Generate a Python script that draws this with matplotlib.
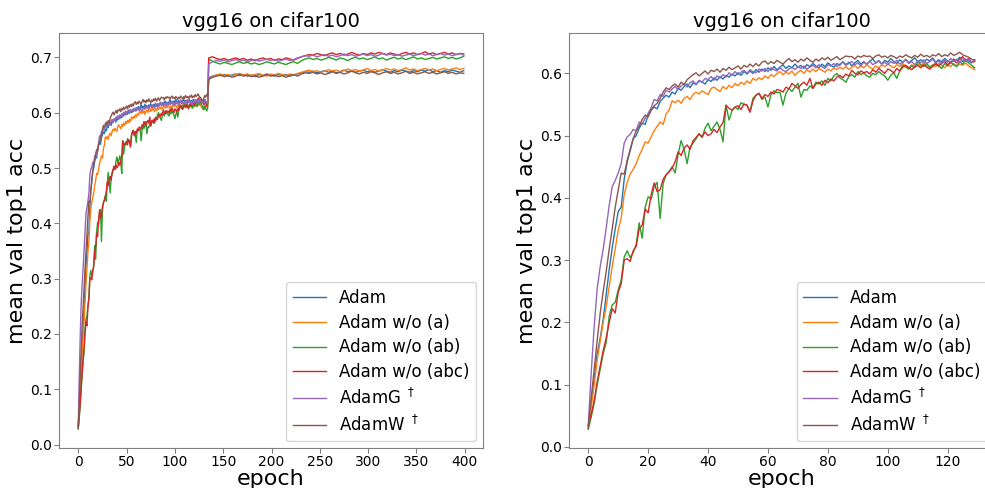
import numpy as np
import matplotlib
matplotlib.use("Agg")
import matplotlib.pyplot as plt

# ---------------- data (accuracy in thousandths) ----------------
labels = ["Adam", "Adam w/o (a)", "Adam w/o (ab)", "Adam w/o (abc)",
          r"AdamG $^\dagger$", r"AdamW $^\dagger$"]
colors = ["tab:blue", "tab:orange", "tab:green", "tab:red", "tab:purple", "tab:brown"]

# per-epoch values, epochs 0..134
adam_head = [
    32, 70, 110, 150, 175, 205, 245, 285, 320, 350,
    378, 385, 430, 458, 476, 495, 500, 512, 520, 518,
    533, 541, 546, 543, 555, 560, 565, 562, 570, 567,
    576, 573, 579, 583, 577, 585, 582, 588, 586, 583,
    590, 587, 593, 589, 595, 591, 597, 594, 599, 596,
    601, 597, 603, 599, 604, 600, 606, 602, 607, 603,
    609, 605, 611, 606, 610, 614, 608, 612, 609, 615,
    610, 613, 608, 614, 611, 616, 612, 609, 615, 611,
    617, 613, 610, 616, 613, 619, 614, 618, 612, 617,
    621, 615, 619, 614, 620, 623, 617, 620, 615, 621,
    618, 624, 619, 616, 622, 618, 623, 617, 621, 625,
    619, 622, 617, 623, 620, 625, 618, 622, 619, 624,
    620, 617, 623, 621, 626, 619, 623, 620, 617, 622,
    618, 624, 620, 616, 622]
adam_a_head = [
    30, 65, 100, 140, 170, 200, 225, 258, 290, 318,
    348, 368, 405, 425, 438, 446, 455, 468, 478, 490,
    488, 498, 508, 515, 522, 518, 535, 541, 556, 553,
    557, 552, 560, 563, 558, 566, 570, 567, 572, 569,
    566, 576, 578, 574, 571, 579, 575, 581, 577, 584,
    580, 586, 582, 588, 584, 592, 589, 593, 590, 596,
    592, 598, 595, 600, 603, 598, 602, 599, 604, 597,
    602, 605, 600, 606, 602, 607, 603, 608, 605, 602,
    607, 604, 609, 606, 610, 607, 611, 606, 610, 613,
    608, 612, 609, 614, 610, 607, 612, 609, 614, 611,
    615, 612, 609, 614, 611, 616, 612, 609, 614, 611,
    615, 612, 617, 613, 610, 614, 611, 616, 613, 609,
    614, 611, 616, 612, 615, 613, 617, 612, 609, 606,
    612, 609, 614, 610, 613]
adam_ab_head = [
    28, 48, 70, 100, 125, 150, 168, 210, 228, 232,
    252, 268, 305, 315, 304, 312, 325, 360, 335, 385,
    402, 398, 418, 425, 367, 423, 437, 442, 450, 440,
    470, 492, 478, 455, 482, 488, 495, 503, 497, 512,
    520, 508, 515, 522, 510, 490, 549, 525, 540, 546,
    542, 553, 550, 549, 538, 560, 565, 568, 558, 562,
    546, 566, 572, 569, 570, 549, 568, 576, 571, 578,
    584, 562, 574, 573, 580, 576, 586, 583, 588, 581,
    592, 588, 596, 600, 593, 590, 586, 595, 598, 594,
    603, 598, 601, 596, 594, 600, 598, 603, 599, 596,
    589, 597, 601, 592, 604, 613, 610, 607, 612, 609,
    619, 614, 611, 616, 610, 613, 617, 612, 608, 616,
    612, 618, 614, 611, 619, 615, 621, 617, 613, 609,
    605, 612, 607, 603, 609]
adam_abc_head = [
    35, 52, 75, 105, 130, 155, 175, 200, 222, 215,
    248, 262, 300, 302, 298, 315, 322, 350, 356, 382,
    376, 405, 424, 410, 413, 430, 437, 442, 448, 458,
    474, 468, 480, 485, 478, 492, 497, 503, 498, 506,
    500, 503, 510, 505, 514, 521, 549, 544, 541, 546,
    548, 542, 551, 549, 538, 556, 565, 568, 560, 566,
    563, 570, 567, 574, 573, 570, 578, 575, 584, 580,
    576, 582, 586, 581, 592, 576, 583, 586, 581, 589,
    585, 591, 588, 594, 597, 593, 599, 596, 605, 600,
    598, 604, 601, 603, 599, 606, 602, 608, 604, 600,
    607, 605, 601, 608, 604, 610, 613, 609, 606, 611,
    613, 609, 614, 610, 607, 611, 615, 612, 617, 619,
    614, 618, 621, 617, 623, 627, 620, 624, 618, 619,
    614, 620, 616, 612, 618]
adamg_head = [
    35, 120, 195, 255, 290, 318, 352, 388, 418, 428,
    440, 455, 488, 498, 502, 510, 508, 522, 519, 528,
    536, 545, 558, 556, 566, 563, 573, 570, 575, 579,
    574, 580, 583, 578, 585, 588, 582, 589, 586, 592,
    590, 595, 589, 596, 593, 598, 594, 601, 597, 603,
    598, 602, 605, 600, 606, 603, 601, 607, 604, 608,
    603, 609, 606, 604, 609, 605, 603, 607, 610, 606,
    611, 608, 612, 607, 610, 613, 609, 614, 611, 608,
    614, 612, 616, 611, 615, 618, 613, 616, 619, 614,
    617, 612, 618, 615, 620, 614, 617, 621, 615, 618,
    614, 619, 616, 621, 615, 618, 622, 616, 619, 614,
    620, 617, 622, 616, 619, 623, 617, 620, 615, 621,
    618, 624, 619, 622, 617, 625, 620, 623, 618, 621,
    617, 623, 619, 616, 621]
adamw_head = [
    30, 80, 125, 172, 215, 250, 282, 318, 350, 385,
    412, 440, 438, 460, 478, 495, 508, 515, 526, 533,
    530, 541, 548, 552, 560, 570, 577, 574, 580, 583,
    578, 586, 582, 590, 594, 598, 601, 596, 600, 604,
    599, 605, 603, 607, 602, 608, 605, 610, 606, 609,
    612, 607, 613, 610, 615, 611, 616, 612, 618, 620,
    615, 619, 616, 621, 618, 615, 620, 624, 619, 622,
    618, 623, 620, 625, 621, 618, 623, 620, 625, 622,
    626, 621, 624, 627, 622, 625, 628, 627, 627, 623,
    628, 626, 629, 627, 628, 624, 628, 630, 626, 628,
    625, 629, 627, 624, 628, 626, 630, 627, 625, 629,
    626, 631, 627, 629, 626, 630, 628, 632, 627, 630,
    628, 633, 629, 631, 634, 630, 628, 626, 623, 621,
    627, 631, 628, 633, 630]

# values every 4 epochs, epochs 135..399
adam_tail = [
    663, 666, 668, 667, 669, 666, 668, 670, 667, 669,
    666, 668, 665, 669, 667, 670, 668, 666, 669, 667,
    669, 666, 668, 670, 672, 674, 673, 675, 672, 674,
    676, 673, 675, 672, 674, 677, 674, 676, 673, 675,
    677, 674, 676, 673, 675, 678, 675, 673, 676, 674,
    677, 675, 673, 676, 674, 677, 675, 678, 674, 676,
    673, 676, 674, 677, 675, 673, 676]
adam_a_tail = [
    661, 665, 668, 670, 667, 669, 666, 669, 671, 668,
    670, 667, 669, 671, 668, 666, 670, 668, 671, 669,
    667, 670, 668, 671, 673, 675, 677, 674, 676, 673,
    675, 678, 675, 677, 674, 676, 679, 676, 678, 675,
    677, 680, 676, 678, 675, 677, 680, 677, 679, 676,
    678, 681, 677, 679, 676, 678, 680, 677, 679, 676,
    678, 680, 677, 679, 681, 678, 680]
adam_ab_tail = [
    697, 693, 690, 688, 691, 689, 687, 690, 692, 689,
    691, 688, 690, 687, 689, 692, 690, 688, 691, 689,
    687, 690, 692, 689, 694, 697, 699, 696, 698, 695,
    697, 700, 698, 695, 699, 697, 694, 698, 700, 697,
    699, 696, 698, 701, 697, 699, 695, 698, 700, 697,
    699, 696, 698, 701, 697, 699, 696, 698, 700, 697,
    699, 701, 698, 700, 697, 699, 702]
adam_abc_tail = [
    699, 701, 698, 696, 698, 695, 697, 699, 696, 698,
    695, 697, 694, 697, 699, 696, 698, 695, 697, 696,
    699, 697, 695, 698, 701, 703, 705, 704, 707, 705,
    703, 706, 708, 705, 707, 704, 706, 709, 706, 704,
    707, 705, 708, 706, 709, 707, 705, 708, 706, 704,
    707, 709, 706, 708, 705, 707, 710, 706, 708, 705,
    707, 709, 706, 708, 705, 707, 706]
adamg_tail = [
    688, 692, 694, 693, 695, 692, 694, 696, 693, 695,
    692, 694, 696, 693, 695, 697, 694, 696, 693, 695,
    697, 694, 696, 699, 701, 703, 702, 704, 701, 703,
    705, 702, 704, 701, 703, 706, 703, 705, 702, 704,
    706, 703, 705, 702, 704, 707, 704, 706, 703, 705,
    702, 704, 706, 703, 705, 707, 704, 706, 703, 705,
    707, 704, 706, 703, 705, 707, 704]
adamw_tail = [
    660, 664, 666, 668, 665, 667, 664, 666, 669, 666,
    668, 665, 667, 664, 666, 669, 666, 668, 665, 667,
    664, 667, 669, 666, 670, 672, 671, 673, 670, 672,
    669, 671, 674, 671, 673, 670, 672, 675, 672, 670,
    673, 671, 674, 672, 669, 672, 674, 671, 673, 670,
    672, 675, 671, 673, 670, 672, 674, 671, 673, 670,
    672, 674, 671, 673, 670, 672, 671]

heads = [adam_head, adam_a_head, adam_ab_head, adam_abc_head, adamg_head, adamw_head]
tails = [adam_tail, adam_a_tail, adam_ab_tail, adam_abc_tail, adamg_tail, adamw_tail]

epochs_head = np.arange(len(adam_head))          # 0..134
epochs_tail = np.arange(135, 400, 4)             # 135..399
right_epochs = 130                                # right panel shows epochs 0..129

title = "vgg16 on cifar100"
xlabel = "epoch"
ylabel = "mean val top1 acc"

# ---------------- figure ----------------
plt.rcParams["font.family"] = ["DejaVu Sans"]
fig = plt.figure(figsize=(9.85, 4.88), dpi=100)
axL = fig.add_axes([0.0599, 0.0820, 0.4305, 0.8504])
axR = fig.add_axes([0.5776, 0.0820, 0.4315, 0.8504])

for h, t, c, lab in zip(heads, tails, colors, labels):
    x_full = np.concatenate([epochs_head, epochs_tail])
    y_full = np.concatenate([np.array(h), np.array(t)]) / 1000.0
    axL.plot(x_full, y_full, color=c, lw=1.0, label=lab)
    axR.plot(epochs_head[:right_epochs], np.array(h[:right_epochs]) / 1000.0,
             color=c, lw=1.0, label=lab)

axL.set_xlim(-19.95, 418.95)
axL.set_ylim(-0.006, 0.744)
axL.set_xticks([0, 50, 100, 150, 200, 250, 300, 350, 400])
axL.set_yticks([0.0, 0.1, 0.2, 0.3, 0.4, 0.5, 0.6, 0.7])

axR.set_xlim(-6.45, 135.45)
axR.set_ylim(-0.002, 0.665)
axR.set_xticks([0, 20, 40, 60, 80, 100, 120])
axR.set_yticks([0.0, 0.1, 0.2, 0.3, 0.4, 0.5, 0.6])

for ax in (axL, axR):
    ax.set_title(title, fontsize=14, pad=4)
    ax.set_xlabel(xlabel, fontsize=16, labelpad=0)
    ax.set_ylabel(ylabel, fontsize=16, labelpad=2)
    ax.tick_params(labelsize=10, color="gray", pad=1.5)
    for s in ax.spines.values():
        s.set_color("gray")
    ax.legend(loc="lower right", fontsize=12, borderaxespad=0.4, labelspacing=0.4)

fig.savefig("out.png", dpi=100)
